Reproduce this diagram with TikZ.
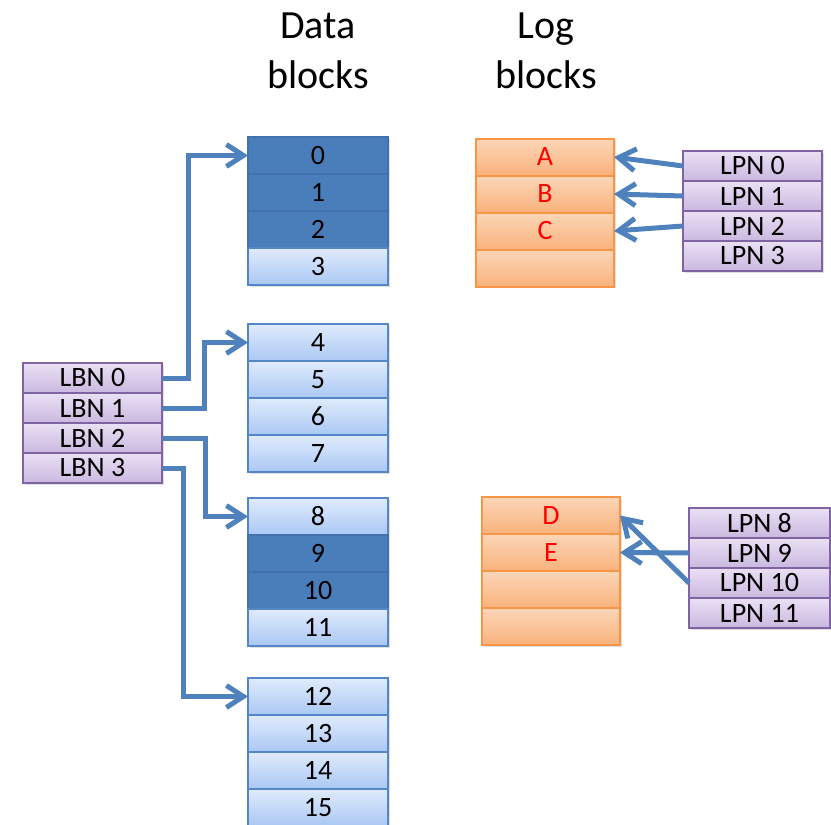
\documentclass[tikz,border=0pt]{standalone}
\usepackage{fontspec}
\setmainfont{Carlito}
\usepackage{tikz}
\usetikzlibrary{positioning,arrows.meta,shadows}
\definecolor{usedfill}{RGB}{74,126,187}
\definecolor{usedline}{RGB}{66,114,172}
\definecolor{freetop}{RGB}{224,235,252}
\definecolor{freebot}{RGB}{170,200,244}
\definecolor{freeline}{RGB}{84,134,200}
\definecolor{logtop}{RGB}{252,214,184}
\definecolor{logbot}{RGB}{249,178,124}
\definecolor{logline}{RGB}{247,150,70}
\definecolor{maptop}{RGB}{234,224,244}
\definecolor{mapbot}{RGB}{202,184,224}
\definecolor{mapline}{RGB}{128,100,162}
\definecolor{ptrblue}{RGB}{79,129,189}
\tikzstyle{cell} = [rectangle, outer sep=0pt, inner sep=0pt, line width=2pt,
    drop shadow={shadow xshift=1.5pt, shadow yshift=-1.5pt, opacity=0.25}]
\tikzstyle{freeblk} = [cell, draw=freeline, top color=freetop, bottom color=freebot,
    minimum width=140pt, minimum height=37pt, font=\fontsize{28}{30}\selectfont]
\tikzstyle{usedblk} = [cell, draw=usedline, fill=usedfill,
    minimum width=140pt, minimum height=37pt, font=\fontsize{28}{30}\selectfont]
\tikzstyle{logblk} = [cell, draw=logline, top color=logtop, bottom color=logbot, text=red,
    minimum width=138pt, minimum height=37pt, font=\fontsize{28}{30}\selectfont]
\tikzstyle{mapent} = [cell, draw=mapline, top color=maptop, bottom color=mapbot,
    minimum width=139pt, minimum height=30pt, font=\fontsize{28}{30}\selectfont]
\tikzstyle{heading} = [align=center, inner sep=0pt, font=\fontsize{40}{50}\selectfont]
\tikzstyle{ptr} = [draw=ptrblue, line width=5pt, -{Straight Barb[length=17pt, width=22pt]}]

\begin{document}
\begin{tikzpicture}[x=1pt, y=-1pt]
                \useasboundingbox (0,0) rectangle (831,825);
                \node[heading] (dtitle) at (318,51) {Data\\blocks};
                \node[heading] (ltitle) at (546,51) {Log\\blocks};

                \node[usedblk] (d0) at (318,155.5) {0};
                \node[usedblk, below=0pt of d0] (d1) {1};
                \node[usedblk, below=0pt of d1] (d2) {2};
                \node[freeblk, below=0pt of d2] (d3) {3};
                \node[freeblk] (d4) at (318,342.5) {4};
                \node[freeblk, below=0pt of d4] (d5) {5};
                \node[freeblk, below=0pt of d5] (d6) {6};
                \node[freeblk, below=0pt of d6] (d7) {7};
                \node[freeblk] (d8) at (318,516.5) {8};
                \node[usedblk, below=0pt of d8] (d9) {9};
                \node[usedblk, below=0pt of d9] (d10) {10};
                \node[freeblk, below=0pt of d10] (d11) {11};
                \node[freeblk] (d12) at (318,696.5) {12};
                \node[freeblk, below=0pt of d12] (d13) {13};
                \node[freeblk, below=0pt of d13] (d14) {14};
                \node[freeblk, below=0pt of d14] (d15) {15};

                \node[logblk] (la) at (545,157) {A};
                \node[logblk, below=0pt of la] (lb) {B};
                \node[logblk, below=0pt of lb] (lc) {C};
                \node[logblk, below=0pt of lc] (lfree0) {};
                \node[logblk] (ld) at (551,515.5) {D};
                \node[logblk, below=0pt of ld] (le) {E};
                \node[logblk, below=0pt of le] (lfree1) {};
                \node[logblk, below=0pt of lfree1] (lfree2) {};

                \node[mapent] (lbn0) at (92.5,378) {LBN 0};
                \node[mapent, below=0pt of lbn0] (lbn1) {LBN 1};
                \node[mapent, below=0pt of lbn1] (lbn2) {LBN 2};
                \node[mapent, below=0pt of lbn2] (lbn3) {LBN 3};

                \node[mapent] (lpn0) at (752.5,166) {LPN 0};
                \node[mapent, below=0pt of lpn0] (lpn1) {LPN 1};
                \node[mapent, below=0pt of lpn1] (lpn2) {LPN 2};
                \node[mapent, below=0pt of lpn2] (lpn3) {LPN 3};
                \node[mapent, minimum width=141pt] (lpn8) at (759.5,523) {LPN 8};
                \node[mapent, minimum width=141pt, below=0pt of lpn8] (lpn9) {LPN 9};
                \node[mapent, minimum width=141pt, below=0pt of lpn9] (lpn10) {LPN 10};
                \node[mapent, minimum width=141pt, below=0pt of lpn10] (lpn11) {LPN 11};

                \draw[ptr] (lbn0.east) -- ++(26,0) |- (d0.west);
                \draw[ptr] (lbn1.east) -- ++(42,0) |- (d4.west);
                \draw[ptr] (lbn2.east) -- ++(43,0) |- (d8.west);
                \draw[ptr] (lbn3.east) -- ++(21,0) |- (d12.west);
                \draw[ptr] (lpn0.west) -- (la.east);
                \draw[ptr] (lpn1.west) -- (lb.east);
                \draw[ptr] (lpn2.west) -- (lc.east);
                \draw[ptr] (lpn9.west) -- (le.east);
                \draw[ptr] (lpn10.west) -- (ld.east);
            \end{tikzpicture}
\end{document}
